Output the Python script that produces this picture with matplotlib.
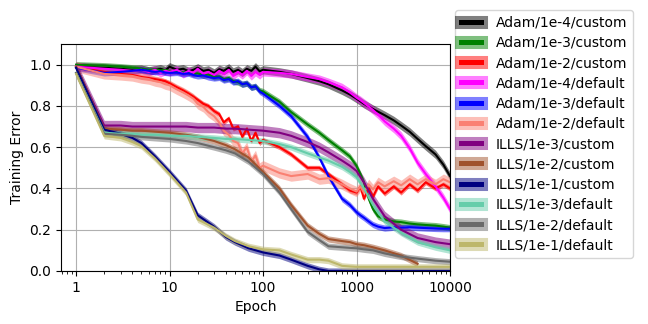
import numpy as np
import matplotlib
matplotlib.use("Agg")
import matplotlib.pyplot as plt
from matplotlib.lines import Line2D
from matplotlib.ticker import ScalarFormatter

plt.rcParams["font.size"] = 10

adam_epochs = [1, 2, 3, 4, 5, 6, 7, 8, 9, 10, 12, 14, 16, 18, 20, 23, 26, 30, 34, 38, 43, 48,
               54, 60, 67, 75, 83, 92, 100, 150, 200, 300, 400, 500, 700, 850, 1000, 1100,
               1200, 1350, 1500, 1700, 2000, 2500, 3000, 3700, 4500, 5500, 7000, 8500, 10000]
ills_epochs = [1, 2, 3, 4, 5, 7, 10, 15, 20, 30, 40, 50, 70, 100, 150, 200, 300, 400,
               500, 700, 850, 1000, 1200, 1500, 2000, 3000, 4500, 7000, 10000]

labels = ["Adam/1e-4/custom", "Adam/1e-3/custom", "Adam/1e-2/custom",
          "Adam/1e-4/default", "Adam/1e-3/default", "Adam/1e-2/default",
          "ILLS/1e-3/custom", "ILLS/1e-2/custom", "ILLS/1e-1/custom",
          "ILLS/1e-3/default", "ILLS/1e-2/default", "ILLS/1e-1/default"]

adam_1e4_custom = [0.99, 0.985, 0.98, 0.975, 0.978, 0.97, 0.975, 0.98, 0.972, 0.99, 0.975, 0.98,
                   0.968, 0.975, 0.985, 0.97, 0.975, 0.96, 0.978, 0.97, 0.985, 0.965, 0.975,
                   0.962, 0.98, 0.97, 0.99, 0.968, 0.975, 0.965, 0.955, 0.935, 0.92, 0.905,
                   0.875, 0.855, 0.835, 0.822, 0.81, 0.797, 0.785, 0.772, 0.755, 0.73, 0.705,
                   0.675, 0.64, 0.605, 0.565, 0.515, 0.46]
adam_1e3_custom = [1.0, 0.995, 0.99, 0.985, 0.982, 0.975, 0.978, 0.972, 0.975, 0.97, 0.968, 0.962,
                   0.965, 0.955, 0.958, 0.948, 0.952, 0.94, 0.943, 0.93, 0.935, 0.92, 0.915,
                   0.905, 0.91, 0.89, 0.895, 0.875, 0.87, 0.82, 0.77, 0.71, 0.67, 0.635,
                   0.585, 0.555, 0.51, 0.47, 0.43, 0.35, 0.30, 0.265, 0.25, 0.24, 0.237,
                   0.23, 0.226, 0.223, 0.22, 0.215, 0.21]
adam_1e2_custom = [0.99, 0.965, 0.955, 0.95, 0.94, 0.935, 0.93, 0.925, 0.92, 0.91, 0.89, 0.875,
                   0.86, 0.845, 0.83, 0.81, 0.80, 0.775, 0.76, 0.72, 0.74, 0.69, 0.70,
                   0.65, 0.69, 0.63, 0.67, 0.62, 0.635, 0.60, 0.565, 0.50, 0.50, 0.47,
                   0.42, 0.39, 0.38, 0.41, 0.35, 0.40, 0.36, 0.41, 0.375, 0.41, 0.38,
                   0.42, 0.39, 0.43, 0.40, 0.42, 0.40]
adam_1e4_default = [0.99, 0.98, 0.975, 0.97, 0.975, 0.965, 0.975, 0.96, 0.97, 0.965, 0.975, 0.955,
                    0.97, 0.96, 0.98, 0.955, 0.965, 0.95, 0.97, 0.955, 0.975, 0.945, 0.965,
                    0.95, 0.97, 0.945, 0.965, 0.95, 0.965, 0.96, 0.955, 0.94, 0.93, 0.915,
                    0.89, 0.865, 0.84, 0.828, 0.815, 0.797, 0.78, 0.758, 0.725, 0.69, 0.655,
                    0.595, 0.525, 0.47, 0.41, 0.355, 0.30]
adam_1e3_default = [0.985, 0.96, 0.965, 0.97, 0.975, 0.97, 0.965, 0.968, 0.962, 0.96, 0.962, 0.955,
                    0.958, 0.95, 0.945, 0.948, 0.94, 0.935, 0.938, 0.925, 0.93, 0.915, 0.92,
                    0.905, 0.91, 0.89, 0.895, 0.87, 0.86, 0.80, 0.75, 0.65, 0.55, 0.46,
                    0.35, 0.32, 0.285, 0.27, 0.258, 0.24, 0.225, 0.215, 0.208, 0.212, 0.21,
                    0.212, 0.21, 0.208, 0.206, 0.205, 0.205]
adam_1e2_default = [0.99, 0.955, 0.95, 0.945, 0.935, 0.93, 0.92, 0.915, 0.905, 0.90, 0.88, 0.865,
                    0.85, 0.835, 0.81, 0.795, 0.77, 0.75, 0.72, 0.68, 0.66, 0.63, 0.62,
                    0.57, 0.60, 0.53, 0.56, 0.50, 0.51, 0.475, 0.46, 0.47, 0.445, 0.45,
                    0.42, 0.40, 0.385, 0.41, 0.38, 0.42, 0.395, 0.43, 0.41, 0.435, 0.415,
                    0.445, 0.42, 0.445, 0.42, 0.445, 0.43]
ills_1e3_custom = [0.99, 0.705, 0.705, 0.70, 0.70, 0.70, 0.70, 0.70, 0.695, 0.695, 0.69, 0.69, 0.685,
                   0.68, 0.67, 0.655, 0.625, 0.60, 0.575, 0.535, 0.51, 0.485, 0.43, 0.35, 0.265,
                   0.20, 0.16, 0.14, 0.13]
ills_1e2_custom = [0.99, 0.69, 0.685, 0.68, 0.68, 0.675, 0.67, 0.66, 0.65, 0.63, 0.61, 0.59, 0.55,
                   0.48, 0.40, 0.32, 0.22, 0.18, 0.155, 0.145, 0.14, 0.13, 0.125, 0.115, 0.10,
                   0.075, 0.035, np.nan, np.nan]
ills_1e1_custom = [0.985, 0.685, 0.665, 0.645, 0.62, 0.555, 0.48, 0.39, 0.27, 0.215, 0.165, 0.14, 0.11,
                   0.09, 0.075, 0.055, 0.025, 0.008, 0.0, 0.0, 0.0, 0.0, 0.0, 0.0, 0.0,
                   0.0, 0.0, 0.0, 0.0]
ills_1e3_default = [0.96, 0.67, 0.665, 0.665, 0.66, 0.66, 0.655, 0.655, 0.65, 0.645, 0.64, 0.64, 0.635,
                    0.63, 0.615, 0.60, 0.57, 0.55, 0.535, 0.505, 0.48, 0.455, 0.40, 0.32, 0.24,
                    0.185, 0.14, 0.115, 0.10]
ills_1e2_default = [0.96, 0.665, 0.66, 0.655, 0.65, 0.645, 0.64, 0.63, 0.62, 0.60, 0.585, 0.57, 0.53,
                    0.47, 0.38, 0.30, 0.19, 0.15, 0.12, 0.115, 0.112, 0.11, 0.105, 0.10, 0.085,
                    0.07, 0.06, 0.05, 0.045]
ills_1e1_default = [0.955, 0.655, 0.645, 0.625, 0.605, 0.545, 0.47, 0.38, 0.25, 0.21, 0.17, 0.145, 0.12,
                    0.105, 0.10, 0.08, 0.055, 0.055, 0.05, 0.025, 0.022, 0.02, 0.02, 0.02, 0.02,
                    0.02, 0.02, 0.02, 0.02]

series = [adam_1e4_custom, adam_1e3_custom, adam_1e2_custom,
          adam_1e4_default, adam_1e3_default, adam_1e2_default,
          ills_1e3_custom, ills_1e2_custom, ills_1e1_custom,
          ills_1e3_default, ills_1e2_default, ills_1e1_default]
series_epochs = [adam_epochs] * 6 + [ills_epochs] * 6

spread = [0.02, 0.015, 0.012, 0.02, 0.015, 0.025, 0.025, 0.015, 0.015, 0.015, 0.015, 0.015]

colors = ["black", "green", "red", "magenta", "blue", "salmon",
          "purple", "sienna", "navy", "mediumaquamarine", "dimgray", "darkkhaki"]

fig = plt.figure(figsize=(6.48, 3.24), dpi=100)
ax = fig.add_axes([61 / 648, 1 - 271 / 324, (450 - 61) / 648, (271 - 44) / 324])

handles = []
for ep, vals, s, c, lab in zip(series_epochs, series, spread, colors, labels):
    x = np.array(ep, dtype=float)
    y = np.array(vals, dtype=float)
    ax.fill_between(x, y - s, y + s, color=c, alpha=0.5, linewidth=0)
    ax.plot(x, y, color=c, lw=1.5)
    h = (Line2D([], [], color=c, lw=9.4, alpha=0.5),
         Line2D([], [], color=c, lw=3.6))
    handles.append(h)

ax.set_xscale("log")
ax.set_xlim(0.69, 10000)
ax.set_ylim(0, 1.1)
ax.set_yticks([0.0, 0.2, 0.4, 0.6, 0.8, 1.0])
ax.xaxis.set_major_formatter(ScalarFormatter())
ax.set_xticks([1, 10, 100, 1000, 10000])
ax.grid(True, which="major")
ax.set_axisbelow(True)
ax.set_xlabel("Epoch")
ax.set_ylabel("Training Error")

fig.legend(handles, labels, loc="upper left",
           bbox_to_anchor=(455 / 648, 1 - 10 / 324), borderaxespad=0,
           handlelength=1.44, handletextpad=1.1, labelspacing=0.45, fontsize=10)

fig.savefig("out.png", dpi=100)
